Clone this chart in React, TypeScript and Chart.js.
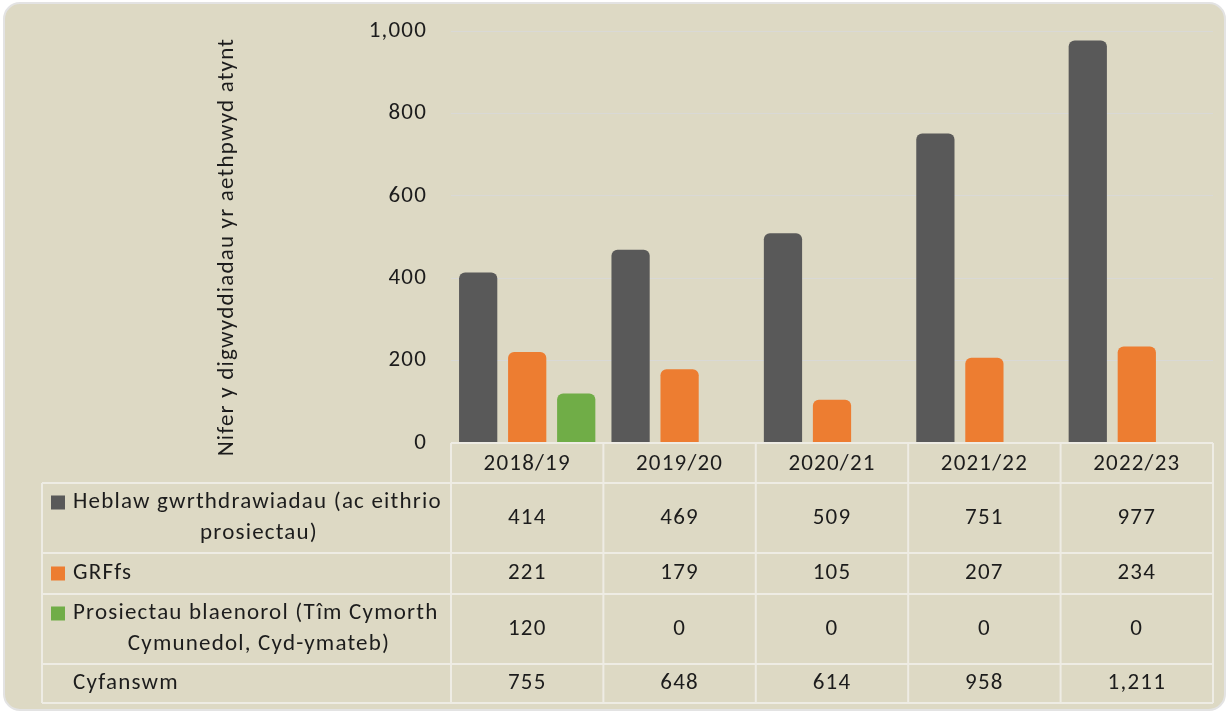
import React, { useEffect, useRef } from "react";
import { Chart, registerables } from "chart.js";

Chart.register(...registerables);

const categories = ["2018/19", "2019/20", "2020/21", "2021/22", "2022/23"];
const heblawValues = [414, 469, 509, 751, 977];
const grffsValues = [221, 179, 105, 207, 234];
const prosiectauValues = [120, 0, 0, 0, 0];
const totalValues = [755, 648, 614, 958, 1211];
const seriesNames = [
  ["Heblaw gwrthdrawiadau (ac eithrio", "prosiectau)"],
  ["GRFfs"],
  ["Prosiectau blaenorol (Tîm Cymorth", "Cymunedol, Cyd-ymateb)"],
];
const totalName = "Cyfanswm";
const axisTitle = "Nifer y digwyddiadau yr aethpwyd atynt";
const yMin = 0;
const yMax = 1000;
const yStep = 200;

const FONT = "Carlito, Lato, 'Open Sans', sans-serif";
const FONT_SIZE = 23;
const SPACING = "1.2px";
const TEXT = "#1c1c1c";
const COLORS = ["#595959", "#ED7D31", "#70AD47"];
const BG = "#DDD9C4";
const LINE = "#EEECE4";

const cardPlugin = {
  id: "card",
  beforeDraw(chart: any) {
    const ctx = chart.ctx;
    (ctx as any).letterSpacing = SPACING;
    ctx.save();
    ctx.fillStyle = "#ffffff";
    ctx.fillRect(0, 0, chart.width, chart.height);
    const x = 4, y = 3, w = 1221, h = 707, r = 16;
    ctx.beginPath();
    ctx.moveTo(x + r, y);
    ctx.arcTo(x + w, y, x + w, y + h, r);
    ctx.arcTo(x + w, y + h, x, y + h, r);
    ctx.arcTo(x, y + h, x, y, r);
    ctx.arcTo(x, y, x + w, y, r);
    ctx.closePath();
    ctx.fillStyle = BG;
    ctx.fill();
    ctx.lineWidth = 2;
    ctx.strokeStyle = "#E3E3E3";
    ctx.stroke();
    // axis title
    ctx.translate(227, 247);
    ctx.rotate(-Math.PI / 2);
    ctx.font = `${FONT_SIZE}px ${FONT}`;
    ctx.fillStyle = TEXT;
    ctx.textAlign = "center";
    ctx.textBaseline = "middle";
    ctx.fillText(axisTitle, 0, 0);
    ctx.restore();
  },
};

const tablePlugin = {
  id: "dataTable",
  afterDraw(chart: any) {
    const ctx = chart.ctx;
    const xs = chart.scales.x;
    const area = chart.chartArea;
    const n = categories.length;
    const cw = (area.right - area.left) / n;
    const top = area.bottom;
    const tableLeft = 42;
    const rowEdges = [top, top + 40, top + 110, top + 151, top + 221, top + 260];
    const seriesRows = [heblawValues, grffsValues, prosiectauValues];

    ctx.save();
    (ctx as any).letterSpacing = SPACING;
    ctx.strokeStyle = LINE;
    ctx.lineWidth = 2;
    ctx.beginPath();
    ctx.moveTo(area.left, rowEdges[0]);
    ctx.lineTo(area.right, rowEdges[0]);
    for (let r = 1; r < rowEdges.length; r++) {
      ctx.moveTo(tableLeft, rowEdges[r]);
      ctx.lineTo(area.right, rowEdges[r]);
    }
    ctx.moveTo(tableLeft, rowEdges[1]);
    ctx.lineTo(tableLeft, rowEdges[5]);
    for (let i = 0; i <= n; i++) {
      const x = area.left + i * cw;
      ctx.moveTo(x, rowEdges[0]);
      ctx.lineTo(x, rowEdges[5]);
    }
    ctx.stroke();

    ctx.font = `${FONT_SIZE}px ${FONT}`;
    ctx.fillStyle = TEXT;
    ctx.textBaseline = "middle";

    const textLeft = 73;
    const textCenter = (textLeft + area.left - 6) / 2;
    const lineGap = 31;

    for (let s = 0; s < seriesRows.length; s++) {
      const y0 = rowEdges[s + 1];
      const y1 = rowEdges[s + 2];
      const mid = (y0 + y1) / 2;
      const lines = seriesNames[s];
      const firstY = mid - ((lines.length - 1) * lineGap) / 2;
      ctx.fillStyle = COLORS[s];
      ctx.fillRect(51, firstY - 7, 14, 14);
      ctx.fillStyle = TEXT;
      lines.forEach((ln, k) => {
        if (k === 0) {
          ctx.textAlign = "left";
          ctx.fillText(ln, textLeft, firstY + k * lineGap);
        } else {
          ctx.textAlign = "center";
          ctx.fillText(ln, textCenter, firstY + k * lineGap);
        }
      });
      ctx.textAlign = "center";
      seriesRows[s].forEach((v, i) => {
        ctx.fillText(v.toLocaleString("en-US"), xs.getPixelForValue(i), mid);
      });
    }
    const tMid = (rowEdges[4] + rowEdges[5]) / 2;
    ctx.textAlign = "left";
    ctx.fillText(totalName, textLeft, tMid);
    ctx.textAlign = "center";
    totalValues.forEach((v, i) => {
      ctx.fillText(v.toLocaleString("en-US"), xs.getPixelForValue(i), tMid);
    });
    ctx.restore();
  },
};

export default function App() {
  const ref = useRef<HTMLCanvasElement>(null);
  useEffect(() => {
    document.body.style.margin = "0";
    const chart = new Chart(ref.current as HTMLCanvasElement, {
      type: "bar",
      data: {
        labels: categories,
        datasets: [
          { label: seriesNames[0].join(" "), data: heblawValues, backgroundColor: COLORS[0] },
          { label: seriesNames[1].join(" "), data: grffsValues, backgroundColor: COLORS[1] },
          { label: seriesNames[2].join(" "), data: prosiectauValues, backgroundColor: COLORS[2] },
        ],
      },
      options: {
        animation: false,
        responsive: false,
        maintainAspectRatio: false,
        layout: { padding: { left: 0, right: 16, top: 31, bottom: 0 } },
        datasets: {
          bar: {
            categoryPercentage: 0.965,
            barPercentage: 0.78,
            borderRadius: 6,
          },
        },
        plugins: {
          legend: { display: false },
          tooltip: { enabled: false },
          title: { display: false },
        },
        scales: {
          x: {
            grid: { display: false, drawTicks: false },
            border: { display: false },
            ticks: {
              padding: 7,
              color: TEXT,
              font: { family: FONT, size: FONT_SIZE },
              maxRotation: 0,
            },
            afterFit: (scale: any) => {
              scale.height = 270;
              scale.paddingLeft = 0;
              scale.paddingRight = 0;
            },
          },
          y: {
            min: yMin,
            max: yMax,
            ticks: {
              stepSize: yStep,
              padding: 24,
              color: TEXT,
              font: { family: FONT, size: FONT_SIZE },
            },
            grid: { color: "#D9D9D6", lineWidth: 1, drawTicks: false },
            border: { display: false },
            afterFit: (scale: any) => {
              scale.width = 451;
              scale.paddingTop = 0;
              scale.paddingBottom = 0;
            },
          },
        },
      },
      plugins: [cardPlugin, tablePlugin],
    } as any);
    return () => chart.destroy();
  }, []);
  return (
    <div style={{ position: "fixed", left: 0, top: 0, width: 1229, height: 713 }}>
      <canvas ref={ref} width={1229} height={713} style={{ display: "block", width: 1229, height: 713 }} />
    </div>
  );
}
